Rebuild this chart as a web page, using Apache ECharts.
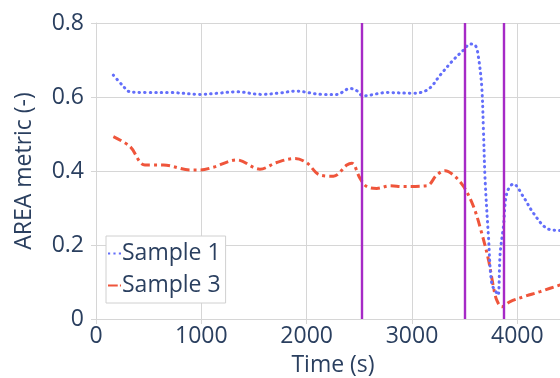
<!DOCTYPE html>
<html><head><meta charset="utf-8">
<script src="https://cdn.jsdelivr.net/npm/echarts@6/dist/echarts.min.js"></script>
<style>html,body{margin:0;padding:0;background:#fff}#c{width:560px;height:378px}</style>
</head><body><div id="c"></div>
<script>
const seriesNames = ["Sample 1", "Sample 3"];
const sample1 = [[165,0.659],[250,0.632],[323,0.614],[500,0.612],[700,0.612],[990,0.607],[1150,0.610],[1336,0.614],[1573,0.607],[1750,0.611],[1890,0.616],[2157,0.607],[2285,0.607],[2412,0.623],[2470,0.618],[2537,0.603],[2760,0.612],[3012,0.610],[3155,0.621],[3267,0.659],[3392,0.700],[3490,0.727],[3552,0.743],[3600,0.740],[3630,0.709],[3662,0.628],[3678,0.511],[3694,0.376],[3726,0.222],[3757,0.096],[3800,0.072],[3818,0.065],[3837,0.178],[3868,0.250],[3900,0.340],[3963,0.365],[4058,0.330],[4153,0.286],[4280,0.245],[4406,0.239],[4500,0.238]];
const sample3 = [[165,0.493],[323,0.466],[465,0.416],[640,0.416],[893,0.403],[990,0.403],[1114,0.410],[1336,0.430],[1557,0.405],[1716,0.423],[1890,0.434],[2001,0.422],[2127,0.389],[2254,0.386],[2381,0.416],[2428,0.421],[2507,0.380],[2570,0.358],[2665,0.353],[2792,0.360],[2918,0.358],[3140,0.360],[3235,0.389],[3314,0.401],[3393,0.389],[3490,0.358],[3584,0.304],[3662,0.232],[3726,0.160],[3773,0.087],[3805,0.051],[3853,0.033],[3932,0.047],[4058,0.060],[4217,0.074],[4406,0.092],[4500,0.100]];
const eventTimes = [2525, 3500, 3875];
const xTicks = [0, 1000, 2000, 3000, 4000];
const yTicks = [0, 0.2, 0.4, 0.6, 0.8];

const font = '"Open Sans", sans-serif';
const txt = '#2a3f5f';
const fs = 23;
const chart = echarts.init(document.getElementById('c'), null, {renderer: 'canvas'});
chart.setOption({
  backgroundColor: '#fff',
  animation: false,
  textStyle: {fontFamily: font, color: txt},
  grid: {left: 96, top: 23, bottom: 59, right: -10, containLabel: false, outerBoundsMode: 'none'},
  legend: {
    left: 106, top: 236, orient: 'vertical',
    backgroundColor: '#fff', borderColor: '#d0d0d0', borderWidth: 1,
    padding: [6, 5, 6, 2], itemGap: 9, itemWidth: 13, itemHeight: 3,
    textStyle: {fontFamily: font, fontSize: fs, color: txt, padding: [0,0,0,-4]},
    data: [
      {name: seriesNames[0], icon: 'path://M0,0h2v2h-2zM5,0h2v2h-2zM10,0h2v2h-2z'},
      {name: seriesNames[1], icon: 'path://M0,0h9v2h-9zM11,0h1v2h-1z'}
    ]
  },
  xAxis: {
    type: 'value', min: 0, max: 4500, interval: 1000,
    name: 'Time (s)', nameLocation: 'middle', nameGap: 35,
    nameTextStyle: {fontFamily: font, fontSize: fs, color: txt},
    axisLine: {show: true, lineStyle: {color: '#d6d6d6', width: 1}},
    axisTick: {show: true, length: 5, lineStyle: {color: '#d6d6d6'}},
    axisLabel: {fontFamily: font, fontSize: fs, color: txt, margin: 6, showMaxLabel: false,
      formatter: v => xTicks.includes(v) ? String(v) : ''},
    splitLine: {show: true, lineStyle: {color: '#d6d6d6', width: 1}}
  },
  yAxis: {
    type: 'value', min: 0, max: 0.8, interval: 0.2,
    name: 'AREA metric (-)', nameLocation: 'middle', nameGap: 60,
    nameTextStyle: {fontFamily: font, fontSize: fs, color: txt},
    axisLine: {show: true, lineStyle: {color: '#d6d6d6', width: 1}},
    axisTick: {show: true, length: 5, lineStyle: {color: '#d6d6d6'}},
    axisLabel: {fontFamily: font, fontSize: fs, color: txt, margin: 12,
      formatter: v => { const t = yTicks.find(y => Math.abs(y - v) < 1e-9); return t === undefined ? '' : (t === 0 ? '0' : t.toFixed(1)); }},
    splitLine: {show: true, lineStyle: {color: '#d6d6d6', width: 1}}
  },
  series: [
    {name: seriesNames[0], type: 'line', data: sample1, smooth: 0.35, showSymbol: false, symbol: 'none',
     clip: true, z: 3,
     lineStyle: {color: '#636efa', width: 3, type: [0.5, 5], cap: 'round'}, itemStyle: {color: '#636efa'},
     markLine: {silent: true, symbol: 'none', label: {show: false},
       lineStyle: {color: '#a62ac6', width: 2.4, type: 'solid', cap: 'butt'},
       data: eventTimes.map(t => ({xAxis: t}))}},
    {name: seriesNames[1], type: 'line', data: sample3, smooth: 0.35, showSymbol: false, symbol: 'none',
     clip: true, z: 2,
     lineStyle: {color: '#ef553b', width: 3, type: [9, 4, 3, 4]}, itemStyle: {color: '#ef553b'}}
  ]
});
</script></body></html>
